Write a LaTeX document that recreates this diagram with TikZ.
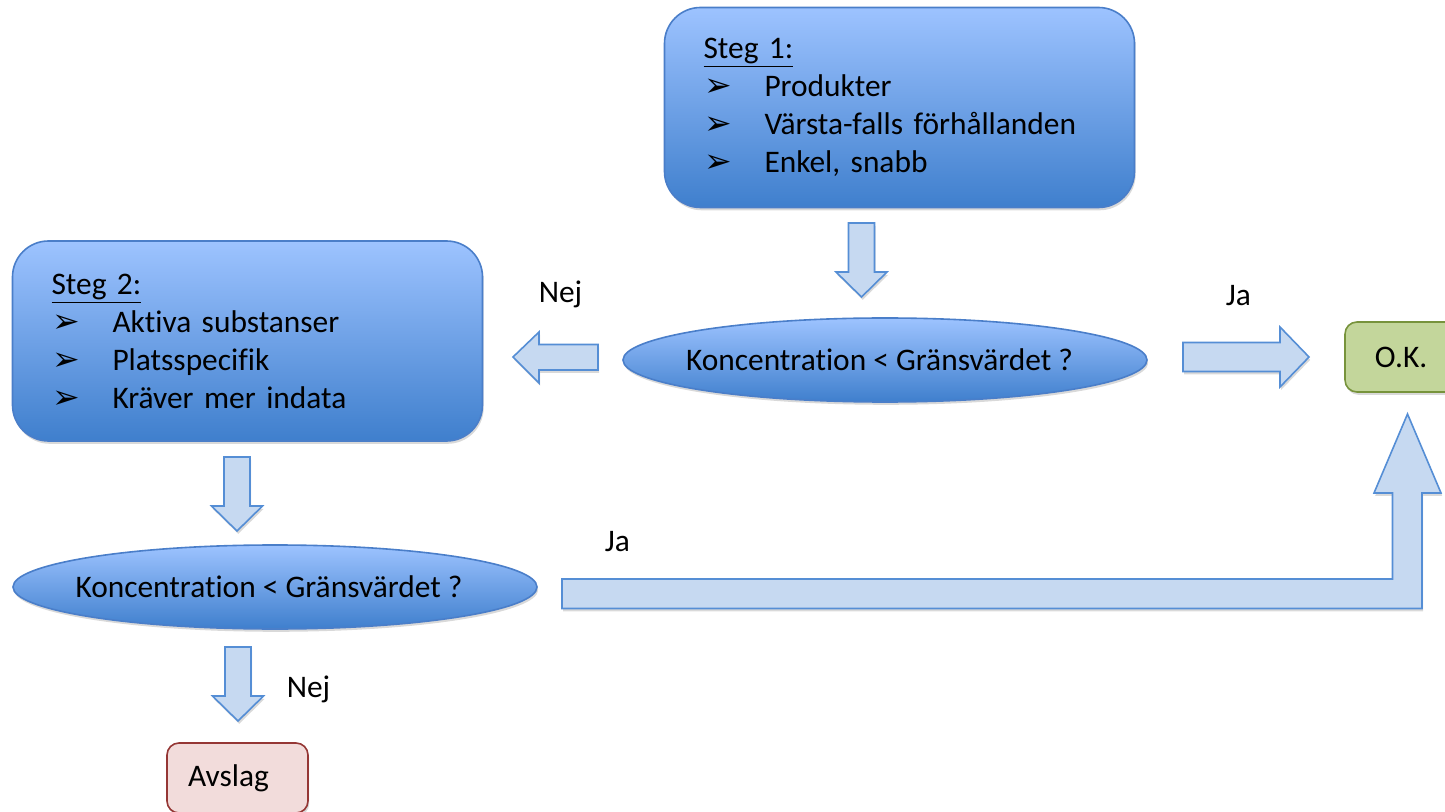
\documentclass[tikz,border=0pt]{standalone}
\usepackage{fontspec}
\setmainfont{Carlito}[Ligatures=NoCommon]
\newfontfamily\dejavu{DejaVu Sans}
\usetikzlibrary{shapes.geometric,shadows}
\definecolor{boxtop}{HTML}{9DC3FF}
\definecolor{boxbot}{HTML}{3F7FCD}
\definecolor{boxline}{HTML}{4A7EC9}
\definecolor{pilfill}{HTML}{C6D9F1}
\definecolor{pilline}{HTML}{558ED5}
\definecolor{okfill}{HTML}{C3D69B}
\definecolor{okline}{HTML}{77933C}
\definecolor{nejfill}{HTML}{F2DCDB}
\definecolor{nejline}{HTML}{953735}
\newcommand\bulpil{{\dejavu\fontsize{16.5}{16.5}\selectfont ➢}}
\newcommand\punkt[1]{\makebox[30.5pt][l]{\hspace{0.6pt}\bulpil}#1}
\newcommand\nedpil[2]{\draw[blk] (#1-13,#2) -- (#1+13,#2) -- (#1+13,#2+49) -- (#1+25.5,#2+49) -- (#1,#2+74) -- (#1-25.5,#2+49) -- (#1-13,#2+49) -- cycle;}
\tikzset{
  skugga/.style={drop shadow={shadow xshift=0.6pt,shadow yshift=-1.4pt,opacity=0.3}},
  steg/.style={rectangle,rounded corners=18pt,draw=boxline,top color=boxtop,bottom color=boxbot,skugga,
    minimum width=235pt,minimum height=100pt,text width=196pt,inner xsep=19.5pt,inner ysep=0pt,align=left},
  fraga/.style={ellipse,draw=boxline,top color=boxtop,bottom color=boxbot,skugga,
    minimum width=262pt,minimum height=42pt,inner sep=0pt},
  svar/.style={rectangle,rounded corners=6pt,skugga,minimum width=#1,minimum height=35pt,inner sep=0pt},
  blk/.style={draw=pilline,fill=pilfill,skugga,line join=miter},
  etikett/.style={anchor=base west,inner sep=0pt}
}
\begin{document}
\begin{tikzpicture}[x=0.5pt,y=-0.5pt,line width=0.8pt,font=\fontsize{15.7}{19}\selectfont]
\useasboundingbox (0,0) rectangle (1445,812);
\node[steg] (steg1) at (899.5,107.5) {\underline{Steg 1:}\\ \punkt{Produkter}\\ \punkt{Värsta-falls förhållanden}\\ \punkt{Enkel, snabb}};
\node[steg] (steg2) at (247.5,341) {\underline{Steg 2:}\\ \punkt{Aktiva substanser}\\ \punkt{Platsspecifik}\\ \punkt{Kräver mer indata}};
\node[fraga] (fraga1) at (885,360) {\makebox[0pt]{Koncentration < Gränsvärdet ?\kern5.5pt}};
\node[fraga] (fraga2) at (275,587) {\makebox[0pt]{Koncentration < Gränsvärdet ?\kern6pt}};
\node[svar=56pt,draw=okline,fill=okfill] (ok) at (1401,357) {O.K.};
\node[svar=70.5pt,draw=nejline,fill=nejfill] (avslag) at (237.5,778) {Avslag\kern9pt\mbox{}};
\nedpil{861.5}{223}
\nedpil{237}{457}
\nedpil{238}{647}
\draw[blk] (598,344.5) -- (539,344.5) -- (539,332) -- (513,357) -- (539,383) -- (539,370) -- (598,370) -- cycle;
\draw[blk] (1183,342.5) -- (1280,342.5) -- (1280,327) -- (1309,357) -- (1280,387) -- (1280,371.5) -- (1183,371.5) -- cycle;
\draw[blk] (562,579) -- (1392.5,579) -- (1392.5,493) -- (1374,493) -- (1407.5,414) -- (1441,493) -- (1422,493) -- (1422,608.5) -- (562,608.5) -- cycle;
\node[etikett] (nej1) at (538,303) {Nej};
\node[etikett] (ja1) at (1225,306) {Ja};
\node[etikett] (ja2) at (604,551) {Ja};
\node[etikett] (nej2) at (286,697) {Nej};
\end{tikzpicture}
\end{document}
